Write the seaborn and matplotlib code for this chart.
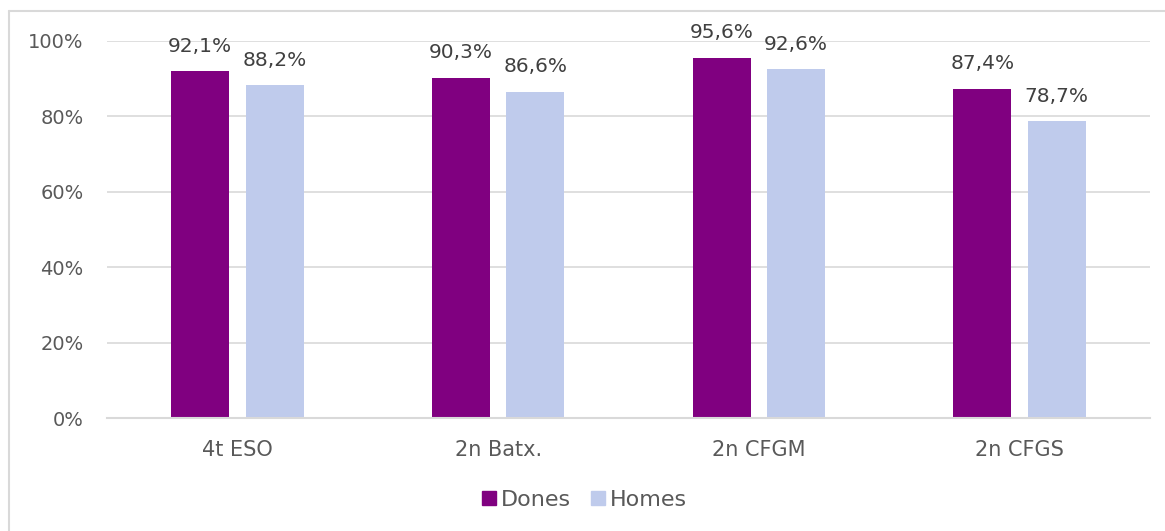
import matplotlib
matplotlib.use("Agg")
import matplotlib.pyplot as plt
from matplotlib.lines import Line2D
from matplotlib.ticker import FuncFormatter
import pandas as pd
import seaborn as sns

categories = ["4t ESO", "2n Batx.", "2n CFGM", "2n CFGS"]
series_names = ["Dones", "Homes"]
dones = [92.1, 90.3, 95.6, 87.4]
homes = [88.2, 86.6, 92.6, 78.7]
y_ticks = [0, 20, 40, 60, 80, 100]

colors = {"Dones": "#800080", "Homes": "#BFCBEC"}
text_color = "#595959"
label_color = "#404040"
grid_color = "#D9D9D9"

df = pd.DataFrame({
    "categoria": categories * 2,
    "sexe": [series_names[0]] * len(categories) + [series_names[1]] * len(categories),
    "valor": dones + homes,
})

sns.set_theme(style="white")
plt.rcParams["font.family"] = ["DejaVu Sans"]

W, H = 1165, 531
fig = plt.figure(figsize=(W / 100, H / 100), dpi=100)
ax = fig.add_axes([107 / W, 1 - 418 / H, (1150 - 107) / W, (418 - 41) / H])

sns.barplot(data=df, x="categoria", y="valor", hue="sexe", hue_order=series_names,
            palette=colors, width=0.57, gap=0.22, saturation=1, ax=ax,
            errorbar=None, legend=False, linewidth=0)

ax.set_ylim(0, 100)
ax.set_xlim(-0.5, len(categories) - 0.5)
ax.set_yticks(y_ticks)
ax.yaxis.set_major_formatter(FuncFormatter(lambda v, _: f"{int(v)}%"))
ax.grid(axis="y", color=grid_color, linewidth=1.2)
ax.set_axisbelow(True)
for side in ["top", "right", "left"]:
    ax.spines[side].set_visible(False)
ax.spines["bottom"].set_color(grid_color)
ax.spines["bottom"].set_linewidth(1.5)
ax.tick_params(axis="both", length=0, colors=text_color)
ax.tick_params(axis="y", pad=17, labelsize=14)
ax.tick_params(axis="x", pad=16, labelsize=15)
ax.set_xlabel("")
ax.set_ylabel("")

# value labels with decimal comma
for cont in ax.containers:
    labels = [f"{b.get_height():.1f}".replace(".", ",") + "%" for b in cont]
    ax.bar_label(cont, labels=labels, padding=11, fontsize=14.5, color=label_color)

handles = [Line2D([], [], marker="s", linestyle="", markersize=10,
                  markerfacecolor=colors[n], markeredgecolor=colors[n]) for n in series_names]
fig.legend(handles, series_names, loc="center", bbox_to_anchor=(0.5, 1 - 500 / H),
           ncol=2, frameon=False, fontsize=16, labelcolor=text_color,
           handletextpad=0.05, columnspacing=0.7, handlelength=1.0)

# chart frame
fig.add_artist(Line2D([9 / W, 1], [1 - 11 / H, 1 - 11 / H], color=grid_color, lw=1.5,
                      transform=fig.transFigure))
fig.add_artist(Line2D([9 / W, 9 / W], [0, 1 - 11 / H], color=grid_color, lw=1.5,
                      transform=fig.transFigure))

fig.savefig("out.png", dpi=100, facecolor="white")
